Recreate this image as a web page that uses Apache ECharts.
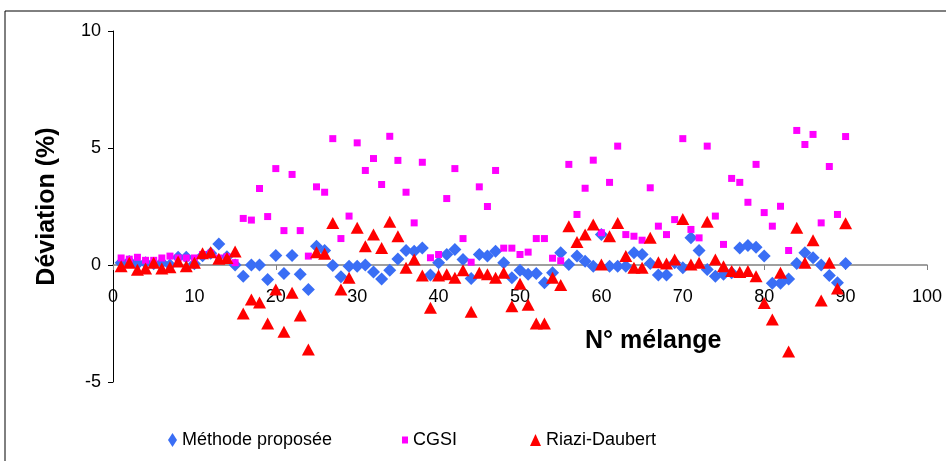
<!DOCTYPE html>
<html>
<head>
<meta charset="utf-8">
<title>Déviation</title>
<script src="https://cdn.jsdelivr.net/npm/echarts@6/dist/echarts.min.js"></script>
<style>
  html, body { margin: 0; padding: 0; background: #fff; }
  #chart { width: 946px; height: 461px; }
</style>
</head>
<body>
<div id="chart"></div>
<script>
  // N° mélange 1..90
  var melange = [];
  for (var i = 1; i <= 90; i++) melange.push(i);

  var methode = [0.1, 0.15, 0.05, 0.1, 0.05, 0.1, 0.0, 0.33, 0.33, 0.05,
    0.4, 0.5, 0.9, 0.35, 0.0, -0.48, 0.0, 0.0, -0.62, 0.41,
    -0.36, 0.41, -0.4, -1.05, 0.8, 0.62, -0.02, -0.5, -0.05, -0.05,
    0.0, -0.3, -0.6, -0.22, 0.26, 0.62, 0.59, 0.73, -0.43, 0.1,
    0.45, 0.66, 0.24, -0.58, 0.45, 0.38, 0.59, 0.1, -0.55, -0.22,
    -0.4, -0.36, -0.76, -0.33, 0.52, 0.02, 0.38, 0.16, -0.05, 1.3,
    -0.05, -0.05, -0.05, 0.52, 0.45, 0.06, -0.43, -0.43, 0.1, -0.12,
    1.16, 0.62, -0.19, -0.48, -0.4, -0.33, 0.73, 0.83, 0.76, 0.38,
    -0.78, -0.78, -0.6, 0.06, 0.52, 0.31, 0.0, -0.45, -0.76, 0.06];

  var cgsi = [0.3, 0.25, 0.33, 0.2, 0.2, 0.3, 0.38, 0.3, 0.3, 0.3,
    0.45, 0.5, 0.3, 0.35, 0.1, 1.99, 1.92, 3.27, 2.07, 4.12,
    1.47, 3.87, 1.47, 0.38, 3.34, 3.11, 5.4, 1.13, 2.09, 5.22,
    4.04, 4.55, 3.44, 5.5, 4.47, 3.11, 1.8, 4.39, 0.31, 0.45,
    2.84, 4.12, 1.13, 0.12, 3.34, 2.5, 4.04, 0.72, 0.72, 0.45,
    0.55, 1.13, 1.13, 0.29, 0.18, 4.3, 2.16, 3.28, 4.48, 1.38,
    3.53, 5.08, 1.3, 1.23, 1.06, 3.3, 1.66, 1.3, 1.94, 5.4,
    1.52, 1.16, 5.08, 2.09, 0.88, 3.7, 3.53, 2.68, 4.3, 2.24,
    1.66, 2.51, 0.62, 5.75, 5.15, 5.58, 1.8, 4.21, 2.16, 5.49];

  var riazi = [-0.05, 0.1, -0.2, -0.15, 0.1, -0.15, -0.1, 0.15, -0.05, 0.1,
    0.5, 0.55, 0.27, 0.3, 0.58, -2.07, -1.47, -1.6, -2.5, -1.05,
    -2.85, -1.19, -2.16, -3.61, 0.55, 0.48, 1.8, -1.05, -0.55, 1.59,
    0.8, 1.3, 0.73, 1.85, 1.23, -0.12, 0.23, -0.45, -1.83, -0.45,
    -0.4, -0.55, -0.22, -2.0, -0.33, -0.4, -0.55, -0.33, -1.76, -0.8,
    -1.7, -2.5, -2.5, -0.55, -0.86, 1.66, 0.98, 1.3, 1.73, 0.02,
    1.23, 1.8, 0.38, -0.12, -0.12, 1.16, 0.12, 0.06, 0.23, 1.97,
    0.02, 0.1, 1.85, 0.23, -0.05, -0.26, -0.3, -0.26, -0.48, -1.62,
    -2.33, -0.33, -3.7, 1.59, 0.1, 1.06, -1.52, 0.1, -1.0, 1.78];

  var xTicks = [0, 10, 20, 30, 40, 50, 60, 70, 80, 90, 100];
  var yTicks = [-5, 0, 5, 10];

  function pairs(ys) {
    return ys.map(function (v, k) { return [melange[k], v]; });
  }

  var font = 'Liberation Sans, Arial, sans-serif';
  var gridTop = 31, gridBottom = 79;
  var plotH = 461 - gridTop - gridBottom;
  // x axis sits on y = 0, labels with it (offset up from the grid bottom)
  var zeroOffset = -plotH * (0 - yTicks[0]) / (yTicks[yTicks.length - 1] - yTicks[0]);

  var chart = echarts.init(document.getElementById('chart'));

  var option = {
    animation: false,
    backgroundColor: '#fff',
    textStyle: { fontFamily: font },
    grid: { left: 113, right: 19, top: gridTop, bottom: gridBottom },
    graphic: [
      {
        type: 'rect',
        shape: { x: 5, y: 11, width: 1000, height: 500 },
        style: { fill: 'none', stroke: '#000', lineWidth: 1 },
        silent: true
      },
      {
        type: 'text',
        left: 585,
        top: 329,
        style: { text: 'N° mélange', font: 'bold 25px ' + font, fill: '#000' }
      }
    ],
    legend: [
      {
        data: [{ name: 'Méthode proposée', icon: 'diamond' }],
        left: 163, top: 426, itemWidth: 9, itemHeight: 14, itemGap: 0,
        textStyle: { fontSize: 18, color: '#000', fontFamily: font }
      },
      {
        data: [{ name: 'CGSI', icon: 'rect' }],
        left: 397, top: 426, itemWidth: 6, itemHeight: 7,
        textStyle: { fontSize: 18, color: '#000', fontFamily: font }
      },
      {
        data: [{ name: 'Riazi-Daubert', icon: 'triangle' }],
        left: 525, top: 426, itemWidth: 11, itemHeight: 12,
        textStyle: { fontSize: 18, color: '#000', fontFamily: font }
      }
    ],
    xAxis: {
      type: 'value',
      min: xTicks[0],
      max: xTicks[xTicks.length - 1],
      interval: 10,
      offset: zeroOffset,
      axisLine: { onZero: false, lineStyle: { color: '#808080', width: 1.5 } },
      axisTick: { length: 5, lineStyle: { color: '#808080' } },
      axisLabel: { fontSize: 18, color: '#000', margin: 23, fontFamily: font },
      splitLine: { show: false }
    },
    yAxis: {
      type: 'value',
      min: yTicks[0],
      max: yTicks[yTicks.length - 1],
      interval: 5,
      name: 'Déviation (%)',
      nameLocation: 'middle',
      nameGap: 53,
      nameRotate: 90,
      nameTextStyle: { fontSize: 25, fontWeight: 'bold', color: '#000', fontFamily: font },
      axisLine: { show: true, onZero: false, lineStyle: { color: '#000', width: 1 } },
      axisTick: { show: true, length: 5, lineStyle: { color: '#000' } },
      axisLabel: { fontSize: 18, color: '#000', margin: 12, fontFamily: font },
      splitLine: { show: false }
    },
    series: [
      {
        name: 'Méthode proposée',
        type: 'scatter',
        symbol: 'diamond',
        symbolSize: 13,
        itemStyle: { color: '#3A6EF5', opacity: 1 },
        data: pairs(methode)
      },
      {
        name: 'CGSI',
        type: 'scatter',
        symbol: 'rect',
        symbolSize: 7,
        itemStyle: { color: '#FF00FF', opacity: 1 },
        data: pairs(cgsi)
      },
      {
        name: 'Riazi-Daubert',
        type: 'scatter',
        symbol: 'triangle',
        symbolSize: [13, 12],
        itemStyle: { color: '#FF0000', opacity: 1 },
        data: pairs(riazi)
      }
    ]
  };

  chart.setOption(option);
</script>
</body>
</html>
